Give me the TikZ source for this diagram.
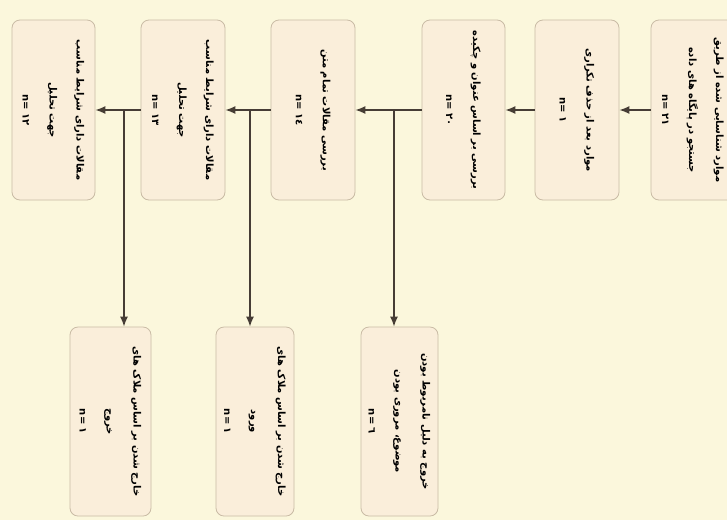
\documentclass[tikz,border=0pt]{standalone}
\usepackage{fontspec}
\usepackage{xcolor}
\usetikzlibrary{arrows.meta}
\newfontfamily\persianfont[Script=Arabic]{DejaVu Sans}
\TeXXeTstate=1
\newcommand{\fa}[1]{\beginR #1\endR}
\definecolor{paper}{HTML}{FBF7DC}
\definecolor{boxfill}{HTML}{FAEEDA}
\definecolor{boxline}{HTML}{C9BBA5}
\definecolor{arrowcol}{HTML}{463D35}

\begin{document}
\begin{tikzpicture}[x=1pt,y=-1pt,>={Latex[length=10pt,width=8pt]},thick,main node/.style={rotate=-90,rectangle,rounded corners=8pt,draw=boxline,fill=boxfill,line width=0.8pt,minimum width=180pt,align=center,inner sep=2pt,font=\persianfont\bfseries\fontsize{10}{27}\selectfont},link/.style={->,draw=arrowcol,line width=1.4pt}]

            \clip (0,0) rectangle (727,520);
            \fill[paper] (0,0) rectangle (727,520);

            \node[main node, minimum height=84pt] (1) at (693,110) {\fa{موارد شناسایی شده از طریق}\\ \fa{جستجو در پایگاه های داده}\\ n= ۲۱};
            \node[main node, minimum height=84pt] (2) at (577,110) {\fa{موارد بعد از حذف تکراری}\\ n= ۱};
            \node[main node, minimum height=83pt] (3) at (463.5,110) {\fa{بررسی بر اساس عنوان و چکیده}\\ n= ۲۰};
            \node[main node, minimum height=84pt] (4) at (313,110) {\fa{بررسی مقالات تمام متن}\\ n= ۱٤};
            \node[main node, minimum height=84pt] (5) at (183,110) {\fa{مقالات دارای شرایط مناسب}\\ \fa{جهت تحلیل}\\ n= ۱۳};
            \node[main node, minimum height=83pt] (6) at (53.5,110) {\fa{مقالات دارای شرایط مناسب}\\ \fa{جهت تحلیل}\\ n= ۱۲};

            \node[main node, minimum width=189pt, minimum height=77pt] (7) at (399.5,421.5) {\fa{خروج به دلیل نامربوط بودن}\\ \fa{موضوع، مروری بودن}\\ n= ٦};
            \node[main node, minimum width=189pt, minimum height=78pt] (8) at (255,421.5) {\fa{خارج شدن بر اساس ملاک های}\\ \fa{ورود}\\ n= ۱};
            \node[main node, minimum width=189pt, minimum height=81pt] (9) at (110.5,421.5) {\fa{خارج شدن بر اساس ملاک های}\\ \fa{خروج}\\ n= ۱};

            \coordinate (34) at (394,110);
            \coordinate (45) at (250,110);
            \coordinate (56) at (124,110);

            \draw[link] (1) to (2);
            \draw[link] (2) to (3);
            \draw[link] (3) to (4);
            \draw[link] (4) to (5);
            \draw[link] (5) to (6);

            \draw[link] (34) to (34 |- 7.west);
            \draw[link] (45) to (45 |- 8.west);
            \draw[link] (56) to (56 |- 9.west);

            ;
        \end{tikzpicture}
\end{document}
